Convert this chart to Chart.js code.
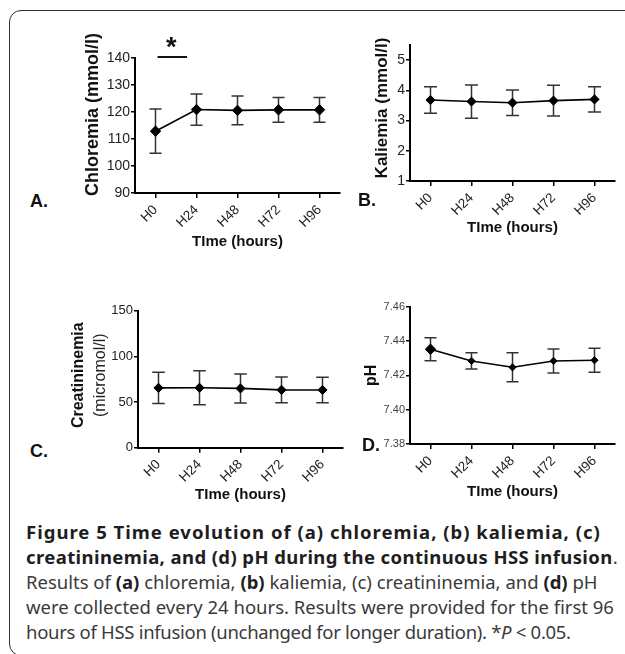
<!DOCTYPE html>
<html>
<head>
<meta charset="utf-8">
<title>Figure 5</title>
<script src="https://cdn.jsdelivr.net/npm/chart.js@4.4.1/dist/chart.umd.min.js"></script>
<style>
    html, body { margin: 0; padding: 0; background: #fff; }
    body { width: 625px; height: 654px; position: relative; overflow: hidden; font-family: 'Liberation Sans', Arial, sans-serif; }
    .frame { position: absolute; left: 9px; top: 10px; width: 640px; height: 646px; border: 1.5px solid #333; border-radius: 12px; box-sizing: border-box; }
    canvas { position: absolute; }
    .letter { position: absolute; font: bold 18px 'Liberation Sans', Arial, sans-serif; line-height: 18px; color: #111; }
    .caption { position: absolute; left: 26px; top: 519px; font-family: 'Noto Sans', sans-serif; font-size: 18.5px; line-height: 25px; color: #3a3a3a; white-space: nowrap; }
    .caption b { color: #1e1e1e; }
    .caption .l1 { letter-spacing: 1px; }
    .caption .l2 { letter-spacing: 0.4px; }
    .caption .l5 { letter-spacing: -0.3px; }
</style>
</head>
<body>
<div class="frame"></div>

<canvas id="chart-a" width="270" height="225" style="left:80px;top:30px"></canvas>
<canvas id="chart-b" width="260" height="221" style="left:365px;top:20px"></canvas>
<canvas id="chart-c" width="293" height="218" style="left:60px;top:290px"></canvas>
<canvas id="chart-d" width="270" height="220" style="left:355px;top:285px"></canvas>

<div class="letter" style="left:30px;top:192px">A.</div>
<div class="letter" style="left:358px;top:191px">B.</div>
<div class="letter" style="left:30px;top:442px">C.</div>
<div class="letter" style="left:362px;top:436px">D.</div>

<div class="caption">
<span class="l1"><b>Figure 5 Time evolution of (a) chloremia, (b) kaliemia, (c)</b></span><br>
<span class="l2"><b>creatininemia, and (d) pH during the continuous HSS infusion</b>.</span><br>
<span class="l3">Results of <b>(a)</b> chloremia, <b>(b)</b> kaliemia, (c) creatininemia, and <b>(d)</b> pH</span><br>
<span class="l4">were collected every 24 hours. Results were provided for the first 96</span><br>
<span class="l5">hours of HSS infusion (unchanged for longer duration). *<i>P</i> &lt; 0.05.</span>
</div>

<script>
// Data (mean and SD per time point)
const timeLabels = ['H0', 'H24', 'H48', 'H72', 'H96'];

const chloremiaMean = [112.9, 120.9, 120.6, 120.8, 120.8];
const chloremiaSd = [8.2, 5.8, 5.3, 4.6, 4.6];
const chloremiaTicks = [90, 100, 110, 120, 130, 140];

const kaliemiaMean = [3.68, 3.63, 3.59, 3.66, 3.70];
const kaliemiaSd = [0.44, 0.55, 0.42, 0.51, 0.42];
const kaliemiaTicks = [1, 2, 3, 4, 5];

const creatMean = [65.5, 65.6, 64.9, 63.3, 63.2];
const creatSd = [17.2, 18.7, 15.9, 14.0, 13.9];
const creatTicks = [0, 50, 100, 150];

const phMean = [7.4352, 7.4284, 7.4247, 7.4284, 7.4288];
const phSd = [0.0067, 0.0047, 0.0084, 0.0070, 0.0070];
const phTicks = [7.38, 7.40, 7.42, 7.44, 7.46];

document.addEventListener('DOMContentLoaded', function() {
    Chart.defaults.font.family = "'Liberation Sans', Arial, sans-serif";
    Chart.defaults.color = '#222';

    // Error bars (mean +/- SD), drawn under the markers
    const errorBars = {
        id: 'errorBars',
        beforeDatasetsDraw(chart) {
            const { ctx, scales: { x, y } } = chart;
            const ds = chart.data.datasets[0];
            const cap = ds.capWidth || 6;
            ctx.save();
            ctx.strokeStyle = '#333';
            ctx.lineWidth = 1.5;
            ds.data.forEach((v, i) => {
                const px = x.getPixelForValue(i);
                const top = y.getPixelForValue(v + ds.errors[i]);
                const bot = y.getPixelForValue(v - ds.errors[i]);
                ctx.beginPath();
                ctx.moveTo(px, top);
                ctx.lineTo(px, bot);
                ctx.moveTo(px - cap, top);
                ctx.lineTo(px + cap, top);
                ctx.moveTo(px - cap, bot);
                ctx.lineTo(px + cap, bot);
                ctx.stroke();
            });
            ctx.restore();
        }
    };

    // Significance bar and star between H0 and H24 (panel A)
    const significance = {
        id: 'significance',
        afterDraw(chart, args, opts) {
            if (!opts.show) return;
            const { ctx, scales: { x, y } } = chart;
            const p0 = x.getPixelForValue(0);
            const step = x.getPixelForValue(1) - p0;
            const x1 = p0 + 0.05 * step;
            const x2 = p0 + 0.77 * step;
            const ly = y.getPixelForValue(y.max) - 1;
            ctx.save();
            ctx.strokeStyle = '#111';
            ctx.lineWidth = 2;
            ctx.beginPath();
            ctx.moveTo(x1, ly);
            ctx.lineTo(x2, ly);
            ctx.stroke();
            ctx.fillStyle = '#111';
            ctx.font = "bold 27px 'Liberation Sans', Arial, sans-serif";
            ctx.textAlign = 'center';
            ctx.textBaseline = 'alphabetic';
            ctx.fillText('*', (x1 + x2) / 2 - 1, ly - 1);
            ctx.restore();
        }
    };

    // Rotated y axis titles, placed relative to the chart area
    const sideTitles = {
        id: 'sideTitles',
        afterDraw(chart, args, opts) {
            const { ctx, chartArea } = chart;
            const midY = (chartArea.top + chartArea.bottom) / 2;
            (opts.lines || []).forEach(line => {
                ctx.save();
                ctx.translate(chartArea.left + line.offset, midY + line.shift);
                ctx.rotate(-Math.PI / 2);
                ctx.fillStyle = line.bold ? '#111' : '#222';
                ctx.font = (line.bold ? 'bold ' : '') + line.size + "px 'Liberation Sans', Arial, sans-serif";
                ctx.textAlign = 'center';
                ctx.textBaseline = 'middle';
                ctx.fillText(line.text, 0, 0);
                ctx.restore();
            });
        }
    };

    function makePanel(id, p) {
        const ctx = document.getElementById(id).getContext('2d');
        return new Chart(ctx, {
            type: 'line',
            data: {
                labels: timeLabels,
                datasets: [{
                    data: p.mean,
                    errors: p.sd,
                    capWidth: p.cap,
                    borderColor: '#000',
                    borderWidth: 1.6,
                    pointStyle: 'rectRot',
                    pointRadius: p.radius,
                    pointBackgroundColor: '#000',
                    pointBorderColor: '#000',
                    pointBorderWidth: 1,
                    tension: 0,
                    clip: false
                }]
            },
            options: {
                responsive: false,
                animation: false,
                devicePixelRatio: 1,
                layout: { padding: { left: 0, top: p.padTop, right: p.padRight, bottom: 0 } },
                plugins: {
                    legend: { display: false },
                    tooltip: { enabled: false },
                    significance: { show: !!p.star },
                    sideTitles: { lines: p.titles }
                },
                scales: {
                    x: {
                        type: 'category',
                        offset: true,
                        grid: { display: true, drawOnChartArea: false, drawTicks: true, tickLength: 5, color: '#000', lineWidth: 1.5, offset: false },
                        border: { display: true, color: '#000', width: 2 },
                        ticks: { autoSkip: false, minRotation: 45, maxRotation: 45, padding: 4, color: '#222', font: { size: 13.5 } },
                        title: { display: true, text: 'TIme (hours)', color: '#111', font: { size: 15, weight: 'bold' }, padding: { top: 0, bottom: 4 } },
                        afterFit: s => { s.height = p.xHeight; }
                    },
                    y: {
                        min: p.min,
                        max: p.max,
                        afterBuildTicks: s => { s.ticks = p.ticks.map(v => ({ value: v })); },
                        grid: { display: true, drawOnChartArea: false, drawTicks: true, tickLength: 4, color: '#000', lineWidth: 1.5 },
                        border: { display: true, color: '#000', width: 2 },
                        ticks: { padding: 1, color: p.tickColor || '#222', font: { size: p.tickSize }, callback: p.format || (v => v) },
                        title: { display: false },
                        afterFit: s => { s.width = p.yWidth; }
                    }
                }
            },
            plugins: [errorBars, significance, sideTitles]
        });
    }

    // Panel A - chloremia
    makePanel('chart-a', {
        mean: chloremiaMean, sd: chloremiaSd, ticks: chloremiaTicks, min: 90, max: 140,
        titles: [{ text: 'Chloremia (mmol/l)', bold: true, size: 18, offset: -42, shift: -11 }],
        tickSize: 14, radius: 5.2, cap: 6, star: true,
        padTop: 28, padRight: 10, xHeight: 62, yWidth: 55
    });

    // Panel B - kaliemia
    makePanel('chart-b', {
        mean: kaliemiaMean, sd: kaliemiaSd, ticks: kaliemiaTicks, min: 1, max: 5.5,
        titles: [{ text: 'Kaliemia (mmol/l)', bold: true, size: 17, offset: -28, shift: -5 }],
        tickSize: 14, radius: 4.6, cap: 6.5,
        padTop: 25, padRight: 10, xHeight: 60, yWidth: 45
    });

    // Panel C - creatininemia
    makePanel('chart-c', {
        mean: creatMean, sd: creatSd, ticks: creatTicks, min: 0, max: 150,
        titles: [
            { text: 'Creatininemia', bold: true, size: 16, offset: -59, shift: -4 },
            { text: '(micromol/l)', bold: false, size: 16, offset: -37, shift: -4 }
        ],
        tickSize: 13, radius: 4.6, cap: 6.3,
        padTop: 20.7, padRight: 10, xHeight: 60.3, yWidth: 78
    });

    // Panel D - pH
    makePanel('chart-d', {
        mean: phMean, sd: phSd, ticks: phTicks, min: 7.38, max: 7.46,
        titles: [{ text: 'pH', bold: true, size: 16, offset: -38, shift: 0 }],
        tickSize: 11, tickColor: '#444', format: v => v.toFixed(2),
        radius: [5.2, 3.6, 3.6, 3.6, 3.6], cap: 6,
        padTop: 21.7, padRight: 10, xHeight: 61, yWidth: 55
    });
});
</script>
</body>
</html>
